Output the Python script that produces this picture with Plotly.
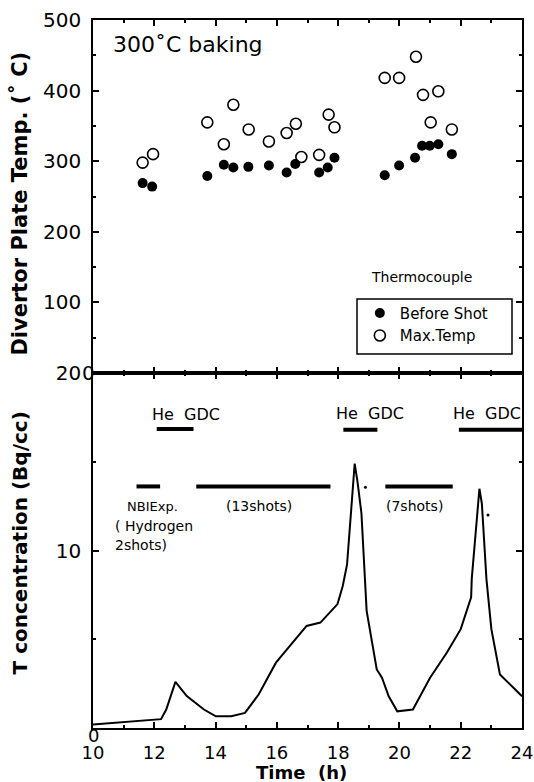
import plotly.graph_objects as go

# ---------------- data ----------------
# Top panel: divertor plate temperature (deg C) vs time (h)
before_t = [11.62, 11.93, 13.73, 14.27, 14.58, 15.07, 15.74, 16.32, 16.60, 17.38,
            17.66, 17.88, 19.52, 19.99, 20.51, 20.74, 20.99, 21.27, 21.71]
before_v = [269, 264, 279, 295, 291, 292, 294, 284, 296, 284,
            291, 305, 280, 294, 305, 322, 322, 324, 310]

max_t = [11.62, 11.96, 13.73, 14.27, 14.58, 15.08, 15.74, 16.32, 16.62, 16.80,
         17.38, 17.69, 17.88, 19.52, 19.99, 20.54, 20.77, 21.02, 21.27, 21.71]
max_v = [298, 310, 355, 324, 380, 345, 328, 340, 353, 306,
         309, 366, 348, 418, 418, 448, 394, 355, 399, 345]

# Bottom panel: T concentration (Bq/cc) vs time (h)
conc_t = [10.00, 12.22, 12.39, 12.69, 13.06, 13.62, 14.01, 14.51, 14.96, 15.41,
          15.97, 16.47, 16.97, 17.42, 17.98, 18.15, 18.29, 18.54, 18.63, 18.76,
          18.89, 18.93, 19.26, 19.43, 19.65, 19.93, 20.44, 21.00, 21.55, 22.00,
          22.34, 22.36, 22.61, 22.69, 22.84, 23.00, 23.28, 23.68, 24.00]
conc_v = [0.20, 0.50, 1.04, 2.60, 1.80, 1.04, 0.66, 0.66, 0.85, 1.90,
          3.68, 4.72, 5.75, 5.94, 6.98, 8.00, 9.20, 14.90, 13.90, 12.10,
          8.40, 6.60, 3.30, 2.83, 1.79, 0.94, 1.04, 2.83, 4.25, 5.57,
          7.36, 8.40, 13.48, 12.65, 8.39, 5.57, 3.02, 2.36, 1.79]
dot_t = [18.89, 22.89]
dot_v = [13.57, 12.00]

# He GDC periods and experiment periods (start, end, level)
gdc_start = [12.08, 18.17, 21.94]
gdc_end = [13.28, 19.28, 24.00]
gdc_level = [16.85, 16.80, 16.80]
gdc_label_t = [13.04, 19.03, 22.86]
gdc_label_v = [17.65, 17.70, 17.70]

exp_start = [11.42, 13.37, 19.54]
exp_end = [12.19, 17.75, 21.74]
exp_level = [13.61, 13.61, 13.61]

x_ticks = [10, 12, 14, 16, 18, 20, 22, 24]
top_y_ticks = [100, 200, 300, 400, 500]
bot_y_ticks = [10, 20]

FONT = "DejaVu Sans"

fig = go.Figure()

# top panel markers
fig.add_trace(go.Scatter(x=before_t, y=before_v, mode="markers", name="Before Shot",
                         marker=dict(symbol="circle", size=10, color="black"),
                         xaxis="x", yaxis="y"))
fig.add_trace(go.Scatter(x=max_t, y=max_v, mode="markers", name="Max.Temp",
                         marker=dict(symbol="circle-open", size=11, color="black",
                                     line=dict(width=1.6, color="black")),
                         xaxis="x", yaxis="y"))

# bottom panel curve
fig.add_trace(go.Scatter(x=conc_t, y=conc_v, mode="lines", showlegend=False,
                         line=dict(color="black", width=2),
                         xaxis="x2", yaxis="y2"))
fig.add_trace(go.Scatter(x=dot_t, y=dot_v, mode="markers", showlegend=False,
                         marker=dict(size=3, color="black"),
                         xaxis="x2", yaxis="y2"))

# horizontal bars
def seg_xy(starts, ends, levels):
    xs, ys = [], []
    for s, e, l in zip(starts, ends, levels):
        xs += [s, e, None]
        ys += [l, l, None]
    return xs, ys

gx, gy = seg_xy(gdc_start, gdc_end, gdc_level)
ex, ey = seg_xy(exp_start, exp_end, exp_level)
fig.add_trace(go.Scatter(x=gx, y=gy, mode="lines", showlegend=False,
                         line=dict(color="black", width=4),
                         xaxis="x2", yaxis="y2"))
fig.add_trace(go.Scatter(x=ex, y=ey, mode="lines", showlegend=False,
                         line=dict(color="black", width=4),
                         xaxis="x2", yaxis="y2"))

split = 0.5014

axis_common = dict(showline=True, linecolor="black", linewidth=1.5, mirror="ticks",
                   ticks="inside", ticklen=6, tickwidth=1.5, tickcolor="black",
                   showgrid=False, zeroline=False, automargin=False,
                   tickfont=dict(family=FONT, size=20, color="black"))

fig.update_layout(
    width=534, height=782,
    margin=dict(l=93, r=12, t=20, b=54),
    paper_bgcolor="white", plot_bgcolor="white",
    font=dict(family=FONT, color="black"),
    xaxis=dict(**axis_common, domain=[0, 1], anchor="y", range=[10, 24],
               tickvals=x_ticks, showticklabels=False,
               minor=dict(ticks="inside", ticklen=3, tickwidth=1.5, tickcolor="black", dtick=1)),
    yaxis=dict(**axis_common, domain=[split, 1], anchor="x", range=[0, 500],
               tickvals=top_y_ticks, ticklabelstandoff=6,
               minor=dict(ticks="inside", ticklen=3, tickwidth=1.5, tickcolor="black",
                          tick0=0, dtick=50)),
    xaxis2=dict(**{**axis_common, "tickfont": dict(family=FONT, size=18, color="black")},
                domain=[0, 1], anchor="y2", range=[10, 24],
                tickvals=x_ticks, ticklabelstandoff=8,
                minor=dict(ticks="inside", ticklen=3, tickwidth=1.5, tickcolor="black", dtick=1)),
    yaxis2=dict(**axis_common, domain=[0, split], anchor="x2", range=[0, 20],
                tickvals=bot_y_ticks, ticklabelstandoff=6,
                minor=dict(ticks="inside", ticklen=3, tickwidth=1.5, tickcolor="black",
                           tick0=0, dtick=5)),
    legend=dict(x=0.622, y=0.6092, xanchor="left", yanchor="top",
                bgcolor="rgba(0,0,0,0)", borderwidth=0,
                font=dict(family=FONT, size=15, color="black"),
                tracegroupgap=0),
    showlegend=True,
)

# legend box
fig.add_shape(type="rect", xref="paper", yref="paper",
              x0=0.6154, x1=0.9767, y0=0.5282, y1=0.6059,
              line=dict(color="black", width=1.5), fillcolor="rgba(0,0,0,0)")

ann = []
ann.append(dict(text="300˚C baking", x=10.6, y=466, xref="x", yref="y",
                xanchor="left", yanchor="middle", showarrow=False,
                font=dict(family=FONT, size=22, color="black")))
ann.append(dict(text="Thermocouple", x=0.7646, y=0.637, xref="paper", yref="paper",
                xanchor="center", yanchor="middle", showarrow=False,
                font=dict(family=FONT, size=14, color="black")))
for t, v in zip(gdc_label_t, gdc_label_v):
    ann.append(dict(text="He  GDC", x=t, y=v, xref="x2", yref="y2",
                    xanchor="center", yanchor="middle", showarrow=False,
                    font=dict(family=FONT, size=16, color="black")))
ann.append(dict(text="NBIExp.", x=11.05, y=12.5, xref="x2", yref="y2",
                xanchor="left", yanchor="middle", showarrow=False,
                font=dict(family=FONT, size=13, color="black")))
ann.append(dict(text="( Hydrogen", x=10.66, y=11.4, xref="x2", yref="y2",
                xanchor="left", yanchor="middle", showarrow=False,
                font=dict(family=FONT, size=14, color="black")))
ann.append(dict(text="2shots)", x=10.66, y=10.33, xref="x2", yref="y2",
                xanchor="left", yanchor="middle", showarrow=False,
                font=dict(family=FONT, size=14, color="black")))
ann.append(dict(text="(13shots)", x=15.43, y=12.5, xref="x2", yref="y2",
                xanchor="center", yanchor="middle", showarrow=False,
                font=dict(family=FONT, size=14, color="black")))
ann.append(dict(text="(7shots)", x=20.49, y=12.5, xref="x2", yref="y2",
                xanchor="center", yanchor="middle", showarrow=False,
                font=dict(family=FONT, size=14, color="black")))
# odd zero labels
ann.append(dict(text="0", x=0, y=0, xref="paper", yref="y",
                xanchor="center", yanchor="middle", xshift=-5, showarrow=False,
                font=dict(family=FONT, size=20, color="black")))
ann.append(dict(text="0", x=10, y=0, xref="x2", yref="y2",
                xanchor="center", yanchor="middle", yshift=-8, showarrow=False,
                font=dict(family=FONT, size=18, color="black")))
# axis titles
ann.append(dict(text="<b>Divertor Plate Temp. (˚ C)</b>", x=0, y=(split + 1) / 2 - 0.01,
                xref="paper", yref="paper", xshift=-73, textangle=-90,
                xanchor="center", yanchor="middle", showarrow=False,
                font=dict(family=FONT, size=21, color="black")))
ann.append(dict(text="<b>T concentration (Bq/cc)</b>", x=0, y=split / 2 + 0.01,
                xref="paper", yref="paper", xshift=-73, textangle=-90,
                xanchor="center", yanchor="middle", showarrow=False,
                font=dict(family=FONT, size=20, color="black")))
ann.append(dict(text="<b>Time  (h)</b>", x=16.79, y=0, xref="x2", yref="paper",
                yshift=-44, xanchor="center", yanchor="middle", showarrow=False,
                font=dict(family=FONT, size=18, color="black")))
fig.update_layout(annotations=ann)

fig.write_html("out.html", config={"displayModeBar": False},
               post_script="document.body.style.margin='0px';document.body.style.overflow='hidden';")
